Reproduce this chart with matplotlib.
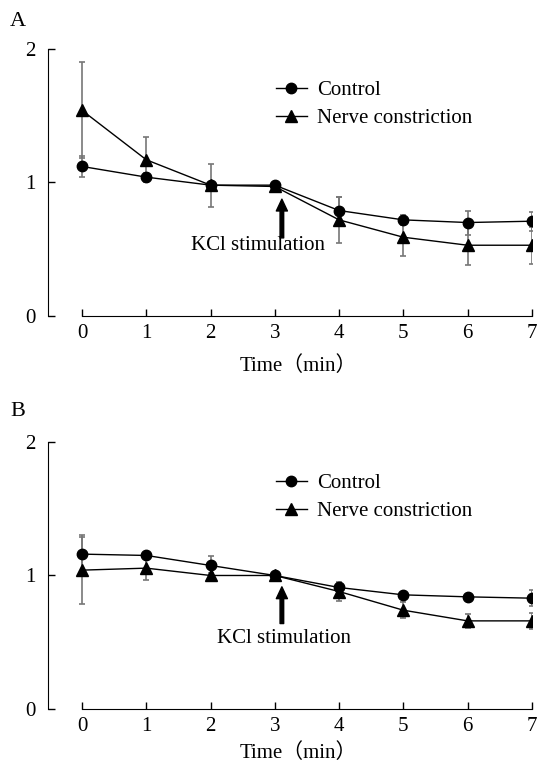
import matplotlib
matplotlib.use("Agg")
import matplotlib.pyplot as plt

plt.rcParams['font.family'] = ['Liberation Serif', 'Noto Sans CJK SC']

time = [0, 1, 2, 3, 4, 5, 6, 7]

# panel A
a_control = [1.12, 1.04, 0.98, 0.98, 0.79, 0.72, 0.70, 0.71]
a_control_err = [0.08, 0.03, 0.02, 0.02, 0.10, 0.04, 0.09, 0.07]
a_nerve = [1.54, 1.17, 0.98, 0.97, 0.72, 0.59, 0.53, 0.53]
a_nerve_err = [0.36, 0.17, 0.16, 0.02, 0.17, 0.14, 0.15, 0.14]

# panel B
b_control = [1.16, 1.15, 1.075, 1.00, 0.91, 0.855, 0.84, 0.83]
b_control_err = [0.14, 0.02, 0.07, 0.01, 0.03, 0.02, 0.02, 0.06]
b_nerve = [1.04, 1.055, 1.00, 1.00, 0.88, 0.74, 0.66, 0.66]
b_nerve_err = [0.25, 0.09, 0.02, 0.01, 0.07, 0.06, 0.05, 0.06]

panels = [
    ("A", a_control, a_control_err, a_nerve, a_nerve_err, 0.875, 0.585, 2.74, 9),
    ("B", b_control, b_control_err, b_nerve, b_nerve_err, 0.915, 0.64, 3.15, 5),
]

fig = plt.figure(figsize=(5.43, 7.64), dpi=100)
axes = [fig.add_axes([0.0884, 0.5864, 0.891, 0.3495]),
        fig.add_axes([0.0884, 0.072, 0.891, 0.3495])]

for ax, (lab, c, ce, n, ne, a_top, a_bot, txt_x, lpad) in zip(axes, panels):
    ax.errorbar(time, n, yerr=ne, fmt='none', ecolor='#777777', elinewidth=1.2,
                capsize=2.5, capthick=1.2, zorder=2)
    ax.errorbar(time, c, yerr=ce, fmt='none', ecolor='#777777', elinewidth=1.2,
                capsize=2.5, capthick=1.2, zorder=2)
    ax.plot(time, c, color='black', lw=1.0, marker='o', ms=7.5, label='Control', zorder=3)
    ax.plot(time, n, color='black', lw=1.0, marker='^', ms=8, label='Nerve constriction', zorder=3)

    ax.annotate('', xy=(3.11, a_top), xytext=(3.11, a_bot),
                arrowprops=dict(facecolor='black', edgecolor='black', width=2.6,
                                headwidth=8, headlength=8.5, shrink=0))
    ax.text(txt_x, 0.53, 'KCl stimulation', ha='center', va='center', fontsize=15)

    ax.set_xlim(-0.53, 7.0)
    ax.set_ylim(0, 2)
    ax.set_xticks(time)
    ax.set_yticks([0, 1, 2])
    ax.spines['top'].set_visible(False)
    ax.spines['right'].set_visible(False)
    ax.spines['bottom'].set_bounds(0, 7)
    ax.tick_params(direction='in', length=5, width=1, labelsize=15)
    ax.tick_params(axis='y', pad=9)
    ax.tick_params(axis='x', pad=6)
    ax.set_xlabel('Time（min）', fontsize=15, labelpad=lpad)
    ax.xaxis.label.set_x(0.518)

    ax.legend(loc='upper left', bbox_to_anchor=(0.449, 0.92), frameon=False,
              fontsize=15, handlelength=1.5, handletextpad=0.5, labelspacing=0.4,
              borderpad=0)

    fig.text(10 / 543, 1 - (22 if lab == 'A' else 412) / 764, lab, fontsize=16,
             ha='left', va='center')

fig.savefig('out.png', dpi=100)
